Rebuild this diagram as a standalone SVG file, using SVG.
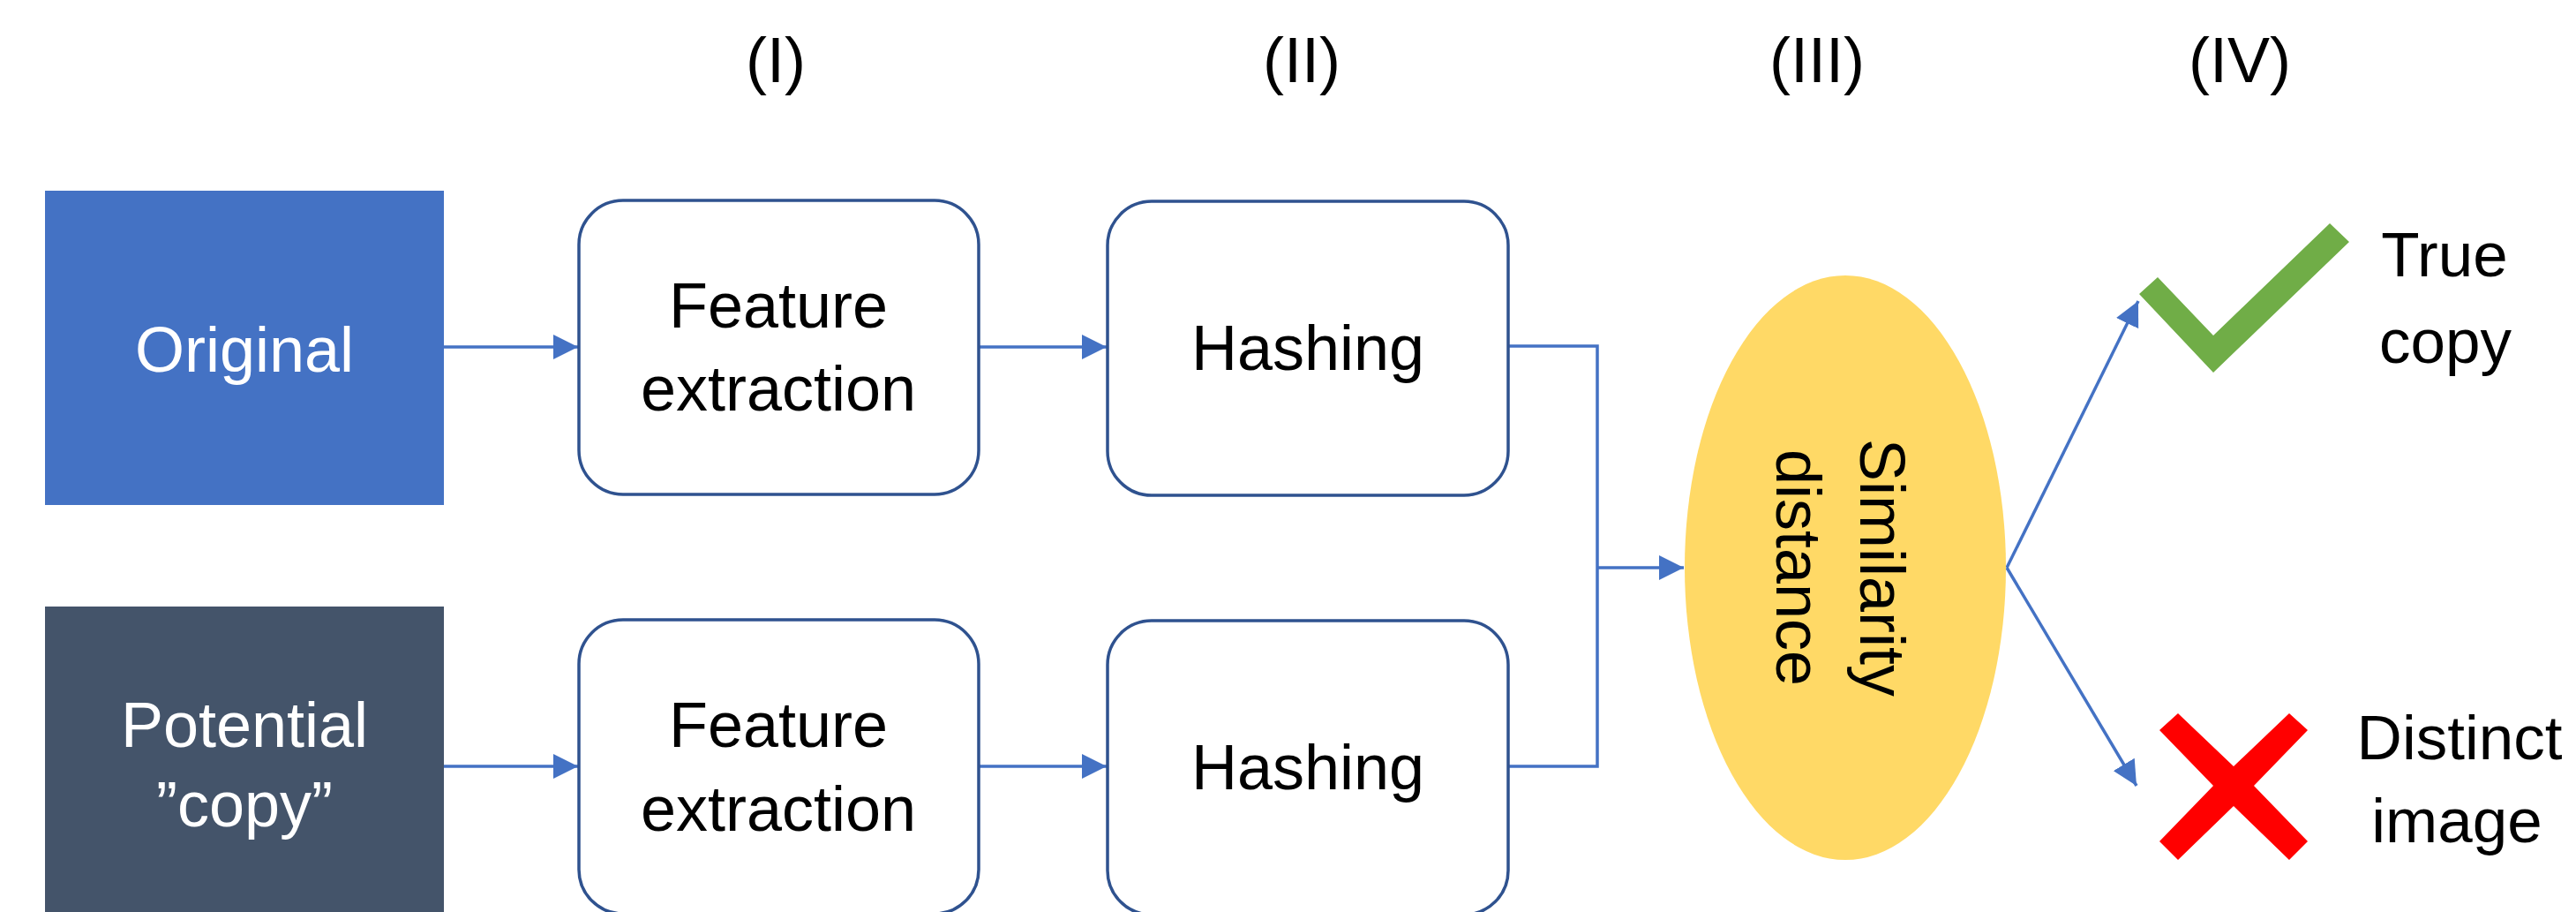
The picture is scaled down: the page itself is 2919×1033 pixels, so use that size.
<svg xmlns="http://www.w3.org/2000/svg" width="2919" height="1033" viewBox="0 0 2919 1033">
<style>
text{font-family:"Liberation Sans",Arial,sans-serif;font-size:72px;fill:#000;text-anchor:middle}
.w{fill:#fff}
.box{fill:#fff;stroke:#2F528F;stroke-width:3.5}
.conn{fill:none;stroke:#4472C4;stroke-width:3.5}
.lbl{font-size:71px}
</style>
<defs>
<marker id="ah" viewBox="0 0 28 28" refX="28" refY="14" markerWidth="28" markerHeight="28" markerUnits="userSpaceOnUse" orient="auto">
<path d="M0,0 L28,14 L0,28 z" fill="#4472C4"/>
</marker>
</defs>
<rect width="2919" height="1033" fill="#fff"/>
<g id="headers">
<text x="879" y="93">(I)</text>
<text x="1475" y="93">(II)</text>
<text x="2059" y="93">(III)</text>
<text x="2538" y="93">(IV)</text>
</g>
<g id="connectors">
<path class="conn" d="M503,393 H655" marker-end="url(#ah)"/>
<path class="conn" d="M1110,393 H1254" marker-end="url(#ah)"/>
<path class="conn" d="M503,868 H655" marker-end="url(#ah)"/>
<path class="conn" d="M1110,868 H1254" marker-end="url(#ah)"/>
<path class="conn" d="M1709,392 H1810 V868 H1709"/>
<path class="conn" d="M1810,643 H1908" marker-end="url(#ah)"/>
<path class="conn" d="M2274,643 L2423,341" marker-end="url(#ah)"/>
<path class="conn" d="M2274,643 L2421,890" marker-end="url(#ah)"/>
</g>
<g id="original">
<rect x="51" y="216" width="452" height="356" fill="#4472C4"/>
<text class="w" x="277" y="421">Original</text>
</g>
<g id="potential">
<rect x="51" y="687" width="452" height="356" fill="#44546A"/>
<text class="w" x="277" y="846">Potential</text>
<text class="w" x="277" y="936">”copy”</text>
</g>
<g id="fe1">
<rect class="box" x="656" y="227" width="453" height="333" rx="50" ry="50"/>
<text x="882" y="371">Feature</text>
<text x="882" y="465">extraction</text>
</g>
<g id="fe2">
<rect class="box" x="656" y="702" width="453" height="333" rx="50" ry="50"/>
<text x="882" y="846">Feature</text>
<text x="882" y="941">extraction</text>
</g>
<g id="hash1">
<rect class="box" x="1255" y="228" width="454" height="333" rx="50" ry="50"/>
<text x="1482" y="419">Hashing</text>
</g>
<g id="hash2">
<rect class="box" x="1255" y="703" width="454" height="333" rx="50" ry="50"/>
<text x="1482" y="894">Hashing</text>
</g>
<g id="similarity">
<ellipse cx="2091" cy="643" rx="182" ry="331" fill="#FFD966"/>
<g transform="translate(2090,643) rotate(90)">
<text x="0" y="-18">Similarity</text>
<text x="0" y="77">distance</text>
</g>
</g>
<g id="truecopy">
<polygon points="2424,333 2445,314 2508,380 2640,253 2662,274 2508,422" fill="#70AD47"/>
<text class="lbl" x="2770" y="313">True</text>
<text class="lbl" x="2771" y="411">copy</text>
</g>
<g id="distinct">
<polygon points="2447,827 2468,808 2531,868 2594,808 2615,827 2554,890 2615,953 2594,974 2531,913 2468,974 2447,953 2508,890" fill="#FF0000"/>
<text class="lbl" x="2787" y="860">Distinct</text>
<text class="lbl" x="2784" y="954">image</text>
</g>
</svg>
